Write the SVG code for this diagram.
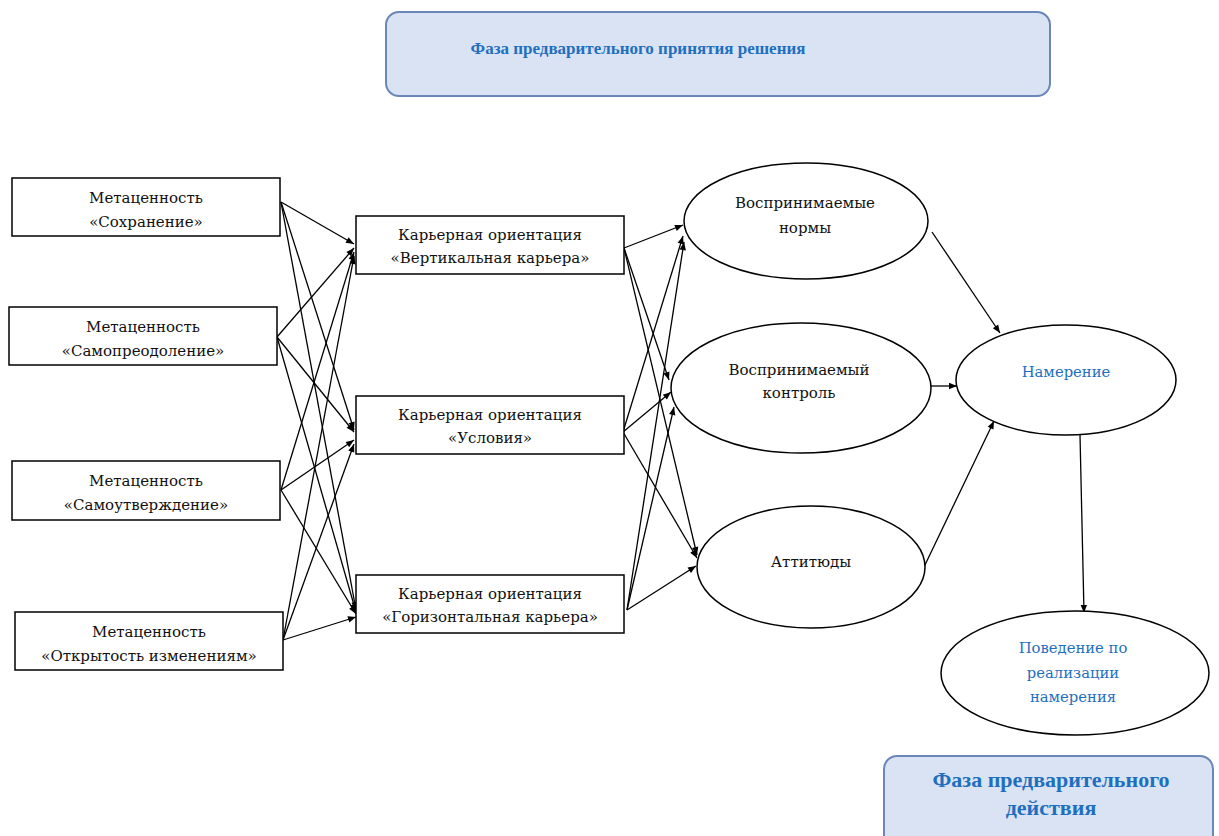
<svg xmlns="http://www.w3.org/2000/svg" width="1219" height="836" viewBox="0 0 1219 836">
<style>
.box{fill:#fff;stroke:#000;stroke-width:1.5}
.ell{fill:#fff;stroke:#000;stroke-width:1.5}
.phase{fill:#dae3f3;stroke:#6b86b8;stroke-width:2}
.t{font-family:"DejaVu Serif","Liberation Serif",serif;font-size:15px;fill:#111;text-anchor:middle}
.bl{font-family:"DejaVu Serif","Liberation Serif",serif;font-size:14.8px;fill:#1f6fbf;text-anchor:middle}
.ph{font-family:"Liberation Serif",serif;font-weight:bold;fill:#1f6fbf;text-anchor:middle}
.c{stroke:#000;stroke-width:1.3;fill:none;marker-end:url(#ah)}
</style>
<defs>
<marker id="ah" viewBox="0 0 10 10" refX="10" refY="5" markerWidth="9" markerHeight="8" markerUnits="userSpaceOnUse" orient="auto">
<path d="M0,1 L10,5 L0,9 z" fill="#000"/>
</marker>
</defs>
<rect width="1219" height="836" fill="#fff"/>

<g id="phase-decision">
<rect class="phase" x="386" y="12" width="664" height="84" rx="13"/>
<text class="ph" x="638" y="54" font-size="17">Фаза предварительного принятия решения</text>
</g>
<g id="phase-action">
<rect class="phase" x="884" y="756" width="329" height="100" rx="13"/>
<text class="ph" x="1051" y="787" font-size="22">Фаза предварительного</text>
<text class="ph" x="1051" y="815" font-size="22">действия</text>
</g>

<g id="connectors">
<line class="c" x1="281" y1="202" x2="354" y2="244"/>
<line class="c" x1="281" y1="202" x2="354" y2="430"/>
<line class="c" x1="281" y1="202" x2="356" y2="610"/>
<line class="c" x1="277" y1="337" x2="354" y2="248"/>
<line class="c" x1="277" y1="337" x2="354" y2="432"/>
<line class="c" x1="277" y1="337" x2="356" y2="612"/>
<line class="c" x1="281" y1="490" x2="354" y2="252"/>
<line class="c" x1="281" y1="490" x2="354" y2="440"/>
<line class="c" x1="281" y1="490" x2="356" y2="614"/>
<line class="c" x1="283" y1="640" x2="354" y2="256"/>
<line class="c" x1="283" y1="640" x2="354" y2="444"/>
<line class="c" x1="283" y1="640" x2="356" y2="617"/>

<line class="c" x1="624" y1="248" x2="683" y2="225"/>
<line class="c" x1="624" y1="248" x2="669" y2="380"/>
<line class="c" x1="624" y1="248" x2="697" y2="555"/>
<line class="c" x1="623" y1="432" x2="683" y2="236"/>
<line class="c" x1="623" y1="432" x2="671" y2="392"/>
<line class="c" x1="623" y1="432" x2="697" y2="558"/>
<line class="c" x1="627" y1="610" x2="684" y2="242"/>
<line class="c" x1="627" y1="610" x2="674" y2="407"/>
<line class="c" x1="627" y1="610" x2="696" y2="566"/>

<line class="c" x1="932" y1="232" x2="1000" y2="333"/>
<line class="c" x1="931" y1="386" x2="957" y2="386"/>
<line class="c" x1="924" y1="567" x2="994" y2="421"/>
<line class="c" x1="1080" y1="435" x2="1084" y2="613"/>
</g>

<g id="mv-preservation">
<rect class="box" x="12" y="178" width="268" height="58"/>
<text class="t" x="146" y="203">Метаценность</text>
<text class="t" x="146" y="227">«Сохранение»</text>
</g>
<g id="mv-selftranscendence">
<rect class="box" x="9" y="307" width="268" height="58"/>
<text class="t" x="143" y="332">Метаценность</text>
<text class="t" x="143" y="356">«Самопреодоление»</text>
</g>
<g id="mv-selfenhancement">
<rect class="box" x="12" y="461" width="268" height="59"/>
<text class="t" x="146" y="486">Метаценность</text>
<text class="t" x="146" y="510">«Самоутверждение»</text>
</g>
<g id="mv-openness">
<rect class="box" x="15" y="612" width="268" height="58"/>
<text class="t" x="149" y="637">Метаценность</text>
<text class="t" x="149" y="661">«Открытость изменениям»</text>
</g>

<g id="co-vertical">
<rect class="box" x="356" y="216" width="268" height="58"/>
<text class="t" x="490" y="240">Карьерная ориентация</text>
<text class="t" x="490" y="263">«Вертикальная карьера»</text>
</g>
<g id="co-conditions">
<rect class="box" x="356" y="396" width="268" height="58"/>
<text class="t" x="490" y="420">Карьерная ориентация</text>
<text class="t" x="490" y="443">«Условия»</text>
</g>
<g id="co-horizontal">
<rect class="box" x="356" y="575" width="268" height="58"/>
<text class="t" x="490" y="599">Карьерная ориентация</text>
<text class="t" x="490" y="622">«Горизонтальная карьера»</text>
</g>

<g id="norms">
<ellipse class="ell" cx="806" cy="221" rx="122" ry="58"/>
<text class="t" x="805" y="208">Воспринимаемые</text>
<text class="t" x="805" y="233">нормы</text>
</g>
<g id="control">
<ellipse class="ell" cx="801" cy="388" rx="130" ry="65"/>
<text class="t" x="799" y="375">Воспринимаемый</text>
<text class="t" x="799" y="398">контроль</text>
</g>
<g id="attitudes">
<ellipse class="ell" cx="811" cy="567" rx="114" ry="61"/>
<text class="t" x="811" y="567">Аттитюды</text>
</g>
<g id="intention">
<ellipse class="ell" cx="1066" cy="380" rx="110" ry="55"/>
<text class="bl" x="1066" y="377">Намерение</text>
</g>
<g id="behavior">
<ellipse class="ell" cx="1075" cy="673" rx="134" ry="62"/>
<text class="bl" x="1073" y="653">Поведение по</text>
<text class="bl" x="1073" y="678">реализации</text>
<text class="bl" x="1073" y="702">намерения</text>
</g>
</svg>
